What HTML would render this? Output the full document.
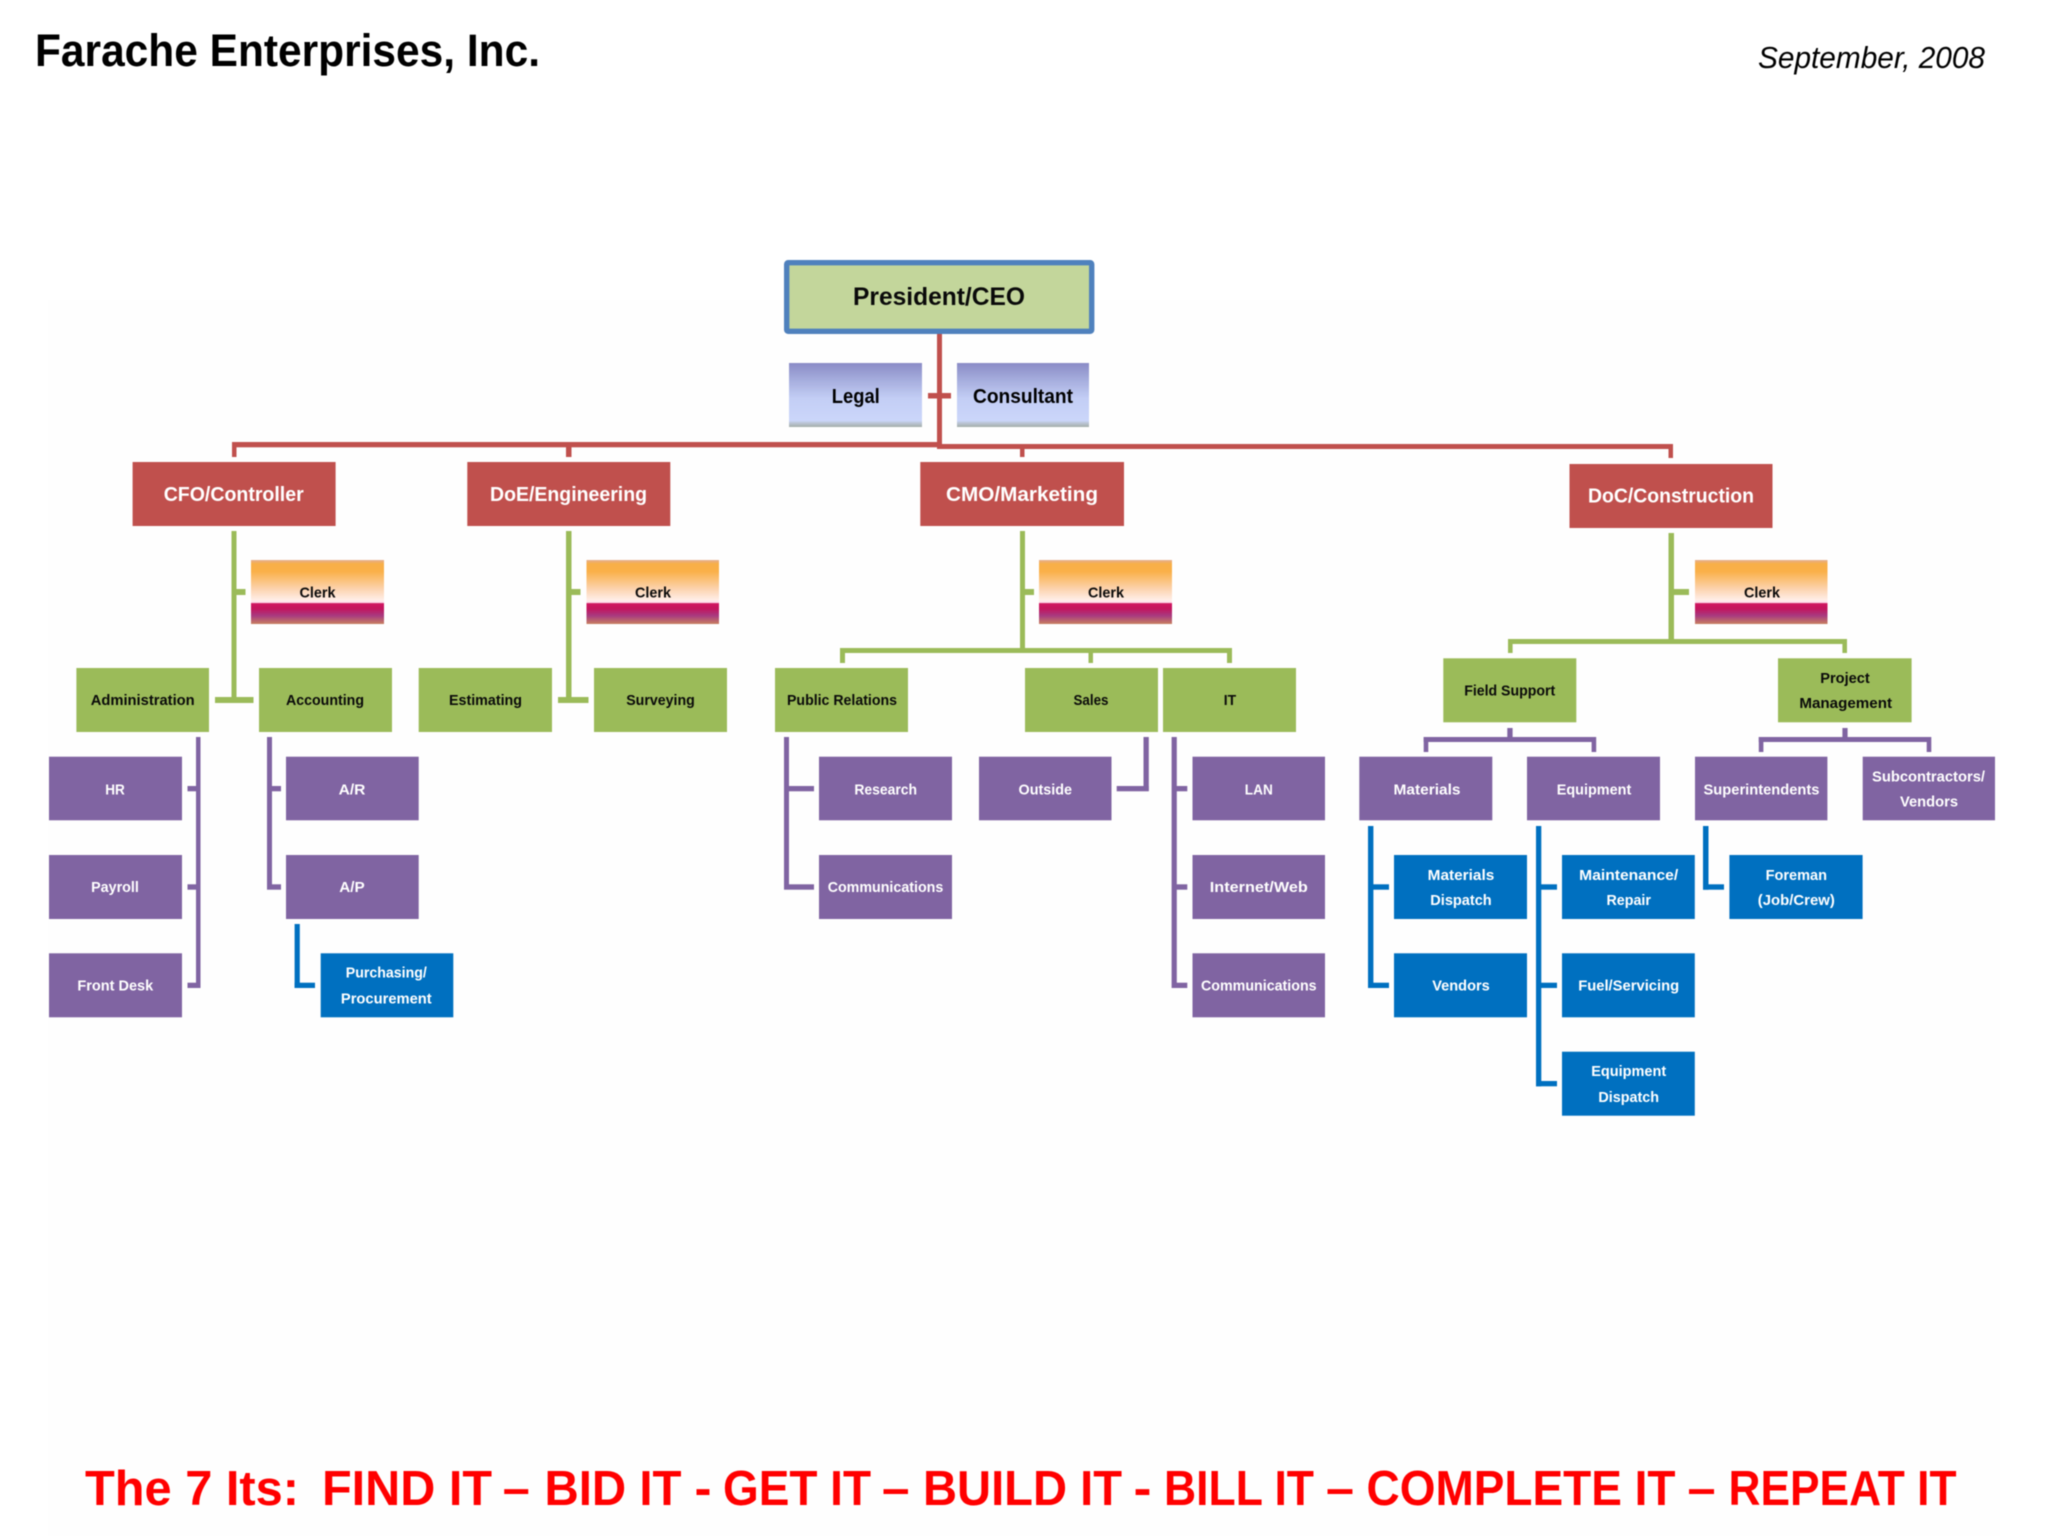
<!DOCTYPE html>
<html><head><meta charset="utf-8"><title>Farache Enterprises, Inc.</title>
<style>
html,body{margin:0;padding:0;background:#fff;width:2048px;height:1536px;overflow:hidden}
svg{display:block;filter:blur(.45px)}
text{font-family:"Liberation Sans",sans-serif;font-weight:bold;text-anchor:middle}
.k{fill:#0a0a0a;font-size:15px}
.w{fill:#fff;font-size:15px}
.r{fill:#fff;font-size:20px}
.b{fill:#000;font-size:20px}
.f{fill:#ff0000;font-size:49px;text-anchor:start}
.red{fill:#C0504D}.grn{fill:#9BBB59}.pur{fill:#8064A2}.blu{fill:#0070C0}
</style></head><body>
<svg width="2048" height="1536" viewBox="0 0 2048 1536" xmlns="http://www.w3.org/2000/svg">
<defs>
<linearGradient id="lg" x1="0" y1="0" x2="0" y2="1">
<stop offset="0" stop-color="#8A8BC6"/><stop offset=".25" stop-color="#A4ABDC"/><stop offset=".55" stop-color="#C3CEF5"/><stop offset=".9" stop-color="#CBD6FA"/><stop offset=".93" stop-color="#BDC8DC"/><stop offset="1" stop-color="#A3ADA8"/>
</linearGradient>
<linearGradient id="cg" x1="0" y1="0" x2="0" y2="1">
<stop offset="0" stop-color="#E4AE90"/><stop offset=".06" stop-color="#F8AF48"/><stop offset=".18" stop-color="#FAB048"/><stop offset=".45" stop-color="#FCD3AE"/><stop offset=".62" stop-color="#FFEDE6"/><stop offset=".665" stop-color="#FFE0EE"/><stop offset=".68" stop-color="#D01560"/><stop offset=".76" stop-color="#C4145E"/><stop offset=".87" stop-color="#A83A80"/><stop offset="1" stop-color="#C88060"/>
</linearGradient>
</defs>
<rect x="48" y="300" width="1952" height="1236" fill="#fefefe"/>

<text x="287.5" y="66" font-size="45" textLength="505" lengthAdjust="spacingAndGlyphs" fill="#000">Farache Enterprises, Inc.</text>
<text x="1871.5" y="68" font-size="31" textLength="227" lengthAdjust="spacingAndGlyphs" fill="#000" style="font-weight:normal;font-style:italic">September, 2008</text>

<!-- red connectors -->
<g class="red">
<rect x="937" y="334" width="5" height="114"/>
<rect x="928" y="393" width="23" height="5.5"/>
<rect x="232" y="442" width="708" height="5.3"/>
<rect x="937" y="444" width="736" height="5"/>
<rect x="232" y="442" width="4.5" height="15"/>
<rect x="566" y="442" width="5.5" height="15"/>
<rect x="1020" y="444" width="4.5" height="13"/>
<rect x="1668.5" y="444" width="4.5" height="14"/>
</g>

<!-- green connectors -->
<g class="grn">
<rect x="231.5" y="531" width="5" height="168"/>
<rect x="236" y="589" width="9.5" height="6"/>
<rect x="215" y="697" width="38.5" height="6"/>
<rect x="566" y="531" width="5.5" height="168"/>
<rect x="571" y="589" width="9.5" height="6"/>
<rect x="558" y="697" width="30.5" height="6"/>
<rect x="1020" y="531" width="5" height="120"/>
<rect x="1025" y="589" width="9" height="6"/>
<rect x="840" y="648" width="392" height="5"/>
<rect x="840" y="648" width="5" height="15"/>
<rect x="1088.5" y="648" width="4.5" height="15"/>
<rect x="1227" y="648" width="5" height="15"/>
<rect x="1668.5" y="533" width="5.5" height="108"/>
<rect x="1674" y="589" width="15" height="6"/>
<rect x="1508" y="639" width="339" height="5"/>
<rect x="1508" y="639" width="4.6" height="14"/>
<rect x="1842.4" y="639" width="4.6" height="14"/>
</g>

<!-- purple connectors -->
<g class="pur">
<rect x="196" y="737" width="4.5" height="251"/>
<rect x="187.5" y="786" width="9" height="5.3"/><rect x="187.5" y="884.3" width="9" height="5.4"/><rect x="187.5" y="982.7" width="9" height="5.3"/>
<rect x="267" y="737" width="5" height="152.7"/>
<rect x="272" y="786" width="9" height="5.3"/><rect x="272" y="884.3" width="9" height="5.4"/>
<rect x="784" y="737" width="5" height="152.7"/>
<rect x="789" y="786" width="25" height="5.3"/><rect x="789" y="884.3" width="25" height="5.4"/>
<rect x="1116.7" y="786" width="32" height="5.3"/><rect x="1143.5" y="737" width="5.3" height="54"/>
<rect x="1171.6" y="737" width="5.2" height="251"/>
<rect x="1176" y="786" width="11.3" height="5.3"/><rect x="1176" y="884.3" width="11.3" height="5.4"/><rect x="1176" y="982.7" width="11.3" height="5.3"/>
<rect x="1507.3" y="728" width="5.3" height="10"/>
<rect x="1423.7" y="737" width="172.3" height="5"/>
<rect x="1423.7" y="737" width="4.6" height="15"/><rect x="1591.6" y="737" width="4.6" height="15"/>
<rect x="1842.4" y="728" width="5.2" height="10"/>
<rect x="1758.8" y="737" width="172.2" height="5"/>
<rect x="1758.8" y="737" width="4.6" height="15"/><rect x="1926.7" y="737" width="4.6" height="15"/>
</g>

<!-- blue connectors -->
<g class="blu">
<rect x="294.6" y="924" width="5.2" height="64"/><rect x="294.6" y="982.7" width="20.4" height="5.3"/>
<rect x="1368" y="826" width="5.4" height="162"/>
<rect x="1373" y="884.3" width="16" height="5.4"/><rect x="1368" y="982.7" width="21" height="5.3"/>
<rect x="1536" y="826" width="5.3" height="260.3"/>
<rect x="1541" y="884.3" width="16" height="5.4"/><rect x="1541" y="982.7" width="16" height="5.3"/><rect x="1536" y="1081" width="21" height="5.3"/>
<rect x="1703" y="826" width="5.5" height="63.7"/><rect x="1703" y="884.3" width="21" height="5.4"/>
</g>

<!-- President -->
<rect x="786.7" y="262.7" width="305" height="68.6" rx="1.5" fill="#C3D69B" stroke="#4F81BD" stroke-width="5.4"/>
<text x="939" y="305" font-size="25" textLength="172" lengthAdjust="spacingAndGlyphs" fill="#0a0a0a">President/CEO</text>

<rect x="789" y="363" width="133" height="64" fill="url(#lg)"/>
<rect x="957" y="363" width="132" height="64" fill="url(#lg)"/>
<text class="b" x="855.8" y="403" textLength="48" lengthAdjust="spacingAndGlyphs">Legal</text>
<text class="b" x="1023" y="403" textLength="100" lengthAdjust="spacingAndGlyphs">Consultant</text>

<!-- Red -->
<g class="red">
<rect x="132.6" y="462" width="203" height="64"/>
<rect x="467.3" y="462" width="203" height="64"/>
<rect x="920.3" y="462" width="203.7" height="64"/>
<rect x="1569.5" y="464" width="203" height="64"/>
</g>
<text class="r" x="233.7" y="501" textLength="140" lengthAdjust="spacingAndGlyphs">CFO/Controller</text>
<text class="r" x="568.5" y="501" textLength="157" lengthAdjust="spacingAndGlyphs">DoE/Engineering</text>
<text class="r" x="1022" y="501" textLength="152" lengthAdjust="spacingAndGlyphs">CMO/Marketing</text>
<text class="r" x="1671" y="502.5" textLength="166" lengthAdjust="spacingAndGlyphs">DoC/Construction</text>

<!-- Clerks -->
<rect x="251" y="560" width="133" height="64" fill="url(#cg)"/>
<rect x="586.5" y="560" width="132.5" height="64" fill="url(#cg)"/>
<rect x="1039" y="560" width="133" height="64" fill="url(#cg)"/>
<rect x="1695" y="560" width="132.5" height="64" fill="url(#cg)"/>
<text class="k" x="317.5" y="597.5" textLength="36" lengthAdjust="spacingAndGlyphs">Clerk</text>
<text class="k" x="653" y="597.5" textLength="36" lengthAdjust="spacingAndGlyphs">Clerk</text>
<text class="k" x="1106" y="597.5" textLength="36" lengthAdjust="spacingAndGlyphs">Clerk</text>
<text class="k" x="1762" y="597.5" textLength="36" lengthAdjust="spacingAndGlyphs">Clerk</text>

<!-- Green -->
<g class="grn">
<rect x="76.4" y="668" width="132.6" height="64"/>
<rect x="259" y="668" width="133" height="64"/>
<rect x="418.7" y="668" width="133.3" height="64"/>
<rect x="594" y="668" width="133" height="64"/>
<rect x="775" y="668" width="133" height="64"/>
<rect x="1025" y="668" width="133" height="64"/>
<rect x="1163" y="668" width="133" height="64"/>
<rect x="1443.3" y="658.3" width="133" height="64"/>
<rect x="1778" y="658.3" width="133.6" height="64"/>
</g>
<text class="k" x="142.7" y="705" textLength="104" lengthAdjust="spacingAndGlyphs">Administration</text>
<text class="k" x="325" y="705" textLength="78" lengthAdjust="spacingAndGlyphs">Accounting</text>
<text class="k" x="485.5" y="705" textLength="73" lengthAdjust="spacingAndGlyphs">Estimating</text>
<text class="k" x="660.5" y="705" textLength="68.6" lengthAdjust="spacingAndGlyphs">Surveying</text>
<text class="k" x="842" y="705" textLength="110" lengthAdjust="spacingAndGlyphs">Public Relations</text>
<text class="k" x="1091" y="705" textLength="35" lengthAdjust="spacingAndGlyphs">Sales</text>
<text class="k" x="1230" y="705" textLength="12.4" lengthAdjust="spacingAndGlyphs">IT</text>
<text class="k" x="1509.7" y="695.7" textLength="91" lengthAdjust="spacingAndGlyphs">Field Support</text>
<text class="k" x="1845" y="683" textLength="49.6" lengthAdjust="spacingAndGlyphs">Project</text>
<text class="k" x="1845.7" y="708" textLength="92.7" lengthAdjust="spacingAndGlyphs">Management</text>

<!-- Purple -->
<g class="pur">
<rect x="49" y="756.7" width="133" height="63.6"/>
<rect x="49" y="855" width="133" height="64"/>
<rect x="49" y="953.3" width="133" height="64"/>
<rect x="286" y="756.7" width="132.7" height="63.6"/>
<rect x="286" y="855" width="132.7" height="64"/>
<rect x="819" y="756.7" width="133" height="63.6"/>
<rect x="819" y="855" width="133" height="64"/>
<rect x="979" y="756.7" width="132.5" height="63.6"/>
<rect x="1192.5" y="756.7" width="132.5" height="63.6"/>
<rect x="1192.5" y="855" width="132.5" height="64"/>
<rect x="1192.5" y="953.3" width="132.5" height="64"/>
<rect x="1359.3" y="756.7" width="133" height="63.6"/>
<rect x="1527" y="756.7" width="133" height="63.6"/>
<rect x="1695" y="756.7" width="132.4" height="63.6"/>
<rect x="1862.7" y="756.7" width="132.3" height="63.6"/>
</g>
<text class="w" x="115" y="794.3" textLength="19.6" lengthAdjust="spacingAndGlyphs">HR</text>
<text class="w" x="115" y="892" textLength="47.7" lengthAdjust="spacingAndGlyphs">Payroll</text>
<text class="w" x="115.3" y="990.3" textLength="75.8" lengthAdjust="spacingAndGlyphs">Front Desk</text>
<text class="w" x="352" y="794.3" textLength="26.8" lengthAdjust="spacingAndGlyphs">A/R</text>
<text class="w" x="352" y="892" textLength="25.5" lengthAdjust="spacingAndGlyphs">A/P</text>
<text class="w" x="885.7" y="794.3" textLength="62.7" lengthAdjust="spacingAndGlyphs">Research</text>
<text class="w" x="885.5" y="892" textLength="115.6" lengthAdjust="spacingAndGlyphs">Communications</text>
<text class="w" x="1045.3" y="794.3" textLength="53.5" lengthAdjust="spacingAndGlyphs">Outside</text>
<text class="w" x="1258.8" y="794.3" textLength="28" lengthAdjust="spacingAndGlyphs">LAN</text>
<text class="w" x="1258.8" y="892" textLength="98" lengthAdjust="spacingAndGlyphs">Internet/Web</text>
<text class="w" x="1258.8" y="990.3" textLength="115.6" lengthAdjust="spacingAndGlyphs">Communications</text>
<text class="w" x="1427" y="794.3" textLength="67" lengthAdjust="spacingAndGlyphs">Materials</text>
<text class="w" x="1594" y="794.3" textLength="74.5" lengthAdjust="spacingAndGlyphs">Equipment</text>
<text class="w" x="1761.5" y="794.3" textLength="116" lengthAdjust="spacingAndGlyphs">Superintendents</text>
<text class="w" x="1928.5" y="781.7" textLength="113" lengthAdjust="spacingAndGlyphs">Subcontractors/</text>
<text class="w" x="1929" y="806.7" textLength="58" lengthAdjust="spacingAndGlyphs">Vendors</text>

<!-- Blue -->
<g class="blu">
<rect x="320.7" y="953.3" width="132.6" height="64"/>
<rect x="1394" y="855" width="133" height="64"/>
<rect x="1394" y="953.3" width="133" height="64"/>
<rect x="1562" y="855" width="132.8" height="64"/>
<rect x="1562" y="953.3" width="132.8" height="64"/>
<rect x="1562" y="1051.7" width="132.8" height="64"/>
<rect x="1729.4" y="855" width="133.2" height="64"/>
</g>
<text class="w" x="386.3" y="977.7" textLength="81" lengthAdjust="spacingAndGlyphs">Purchasing/</text>
<text class="w" x="386.3" y="1003.3" textLength="90.8" lengthAdjust="spacingAndGlyphs">Procurement</text>
<text class="w" x="1461" y="880" textLength="66.6" lengthAdjust="spacingAndGlyphs">Materials</text>
<text class="w" x="1461" y="905" textLength="61.4" lengthAdjust="spacingAndGlyphs">Dispatch</text>
<text class="w" x="1461" y="990.3" textLength="57.5" lengthAdjust="spacingAndGlyphs">Vendors</text>
<text class="w" x="1628.7" y="880" textLength="99" lengthAdjust="spacingAndGlyphs">Maintenance/</text>
<text class="w" x="1628.7" y="905" textLength="44.4" lengthAdjust="spacingAndGlyphs">Repair</text>
<text class="w" x="1628.7" y="990.3" textLength="101" lengthAdjust="spacingAndGlyphs">Fuel/Servicing</text>
<text class="w" x="1628.7" y="1076" textLength="75" lengthAdjust="spacingAndGlyphs">Equipment</text>
<text class="w" x="1628.7" y="1102" textLength="60.7" lengthAdjust="spacingAndGlyphs">Dispatch</text>
<text class="w" x="1796.3" y="880" textLength="61.4" lengthAdjust="spacingAndGlyphs">Foreman</text>
<text class="w" x="1796.3" y="905" textLength="77" lengthAdjust="spacingAndGlyphs">(Job/Crew)</text>

<!-- Footer -->
<text class="f" x="85" y="1505" textLength="214" lengthAdjust="spacingAndGlyphs">The 7 Its:</text>
<text class="f" x="322" y="1505" textLength="170" lengthAdjust="spacingAndGlyphs">FIND IT</text>
<text class="f" x="502.7" y="1505" textLength="27" lengthAdjust="spacingAndGlyphs">–</text>
<text class="f" x="544.5" y="1505" textLength="137" lengthAdjust="spacingAndGlyphs">BID IT</text>
<text class="f" x="694.5" y="1505" textLength="17" lengthAdjust="spacingAndGlyphs">-</text>
<text class="f" x="723" y="1505" textLength="148" lengthAdjust="spacingAndGlyphs">GET IT</text>
<text class="f" x="882" y="1505" textLength="27.5" lengthAdjust="spacingAndGlyphs">–</text>
<text class="f" x="923" y="1505" textLength="199" lengthAdjust="spacingAndGlyphs">BUILD IT</text>
<text class="f" x="1133.5" y="1505" textLength="18" lengthAdjust="spacingAndGlyphs">-</text>
<text class="f" x="1164" y="1505" textLength="150" lengthAdjust="spacingAndGlyphs">BILL IT</text>
<text class="f" x="1326" y="1505" textLength="28" lengthAdjust="spacingAndGlyphs">–</text>
<text class="f" x="1366.5" y="1505" textLength="309" lengthAdjust="spacingAndGlyphs">COMPLETE IT</text>
<text class="f" x="1687.5" y="1505" textLength="28.1" lengthAdjust="spacingAndGlyphs">–</text>
<text class="f" x="1728.5" y="1505" textLength="228" lengthAdjust="spacingAndGlyphs">REPEAT IT</text>
</svg>
</body></html>
